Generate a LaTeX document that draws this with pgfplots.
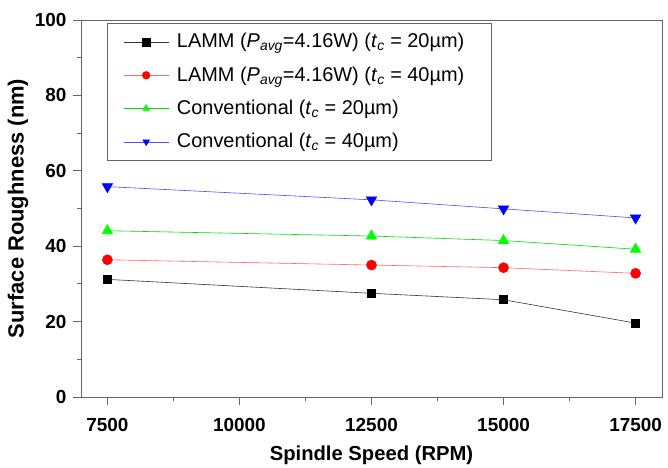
\documentclass[border=0pt]{standalone}
\usepackage{pgfplots}
\pgfplotsset{compat=1.18}
\usepackage{fontspec}
\setmainfont{Liberation Sans}
\begin{document}
\fontsize{19}{22}\selectfont
\begin{tikzpicture}
\path[use as bounding box] (-81bp,-71bp) rectangle (587bp,397bp);
\begin{axis}[
  at={(0,0)}, anchor=south west,
  scale only axis, width=581bp, height=377bp,
  xmin=7000, xmax=18000, ymin=0, ymax=100,
  xtick={7500,10000,12500,15000,17500},
  ytick={0,20,40,60,80,100},
  scaled x ticks=false,
  minor x tick num=1, minor y tick num=1,
  tick align=outside, tick pos=left,
  major tick length=8bp, minor tick length=4bp,
  axis line style={black!60, line width=0.9pt},
  every tick/.style={black!60, line width=0.9pt},
  /pgf/number format/assume math mode=true,
  /pgf/number format/set thousands separator={},
  ticklabel style={font=\fontsize{19}{22}\selectfont\bfseries},
  xticklabel style={yshift=-7bp},
  xlabel={Spindle Speed (RPM)},
  ylabel={Surface Roughness (nm)},
  xlabel style={font=\fontsize{20.3}{24}\selectfont\bfseries, at={(axis description cs:0.5,-58/377)}, anchor=center},
  ylabel style={font=\fontsize{22}{26}\selectfont\bfseries, at={(axis description cs:-63/581,0.5)}, anchor=center},
  legend cell align=left,
  legend style={at={(26/581,1-3/377)}, anchor=north west, draw=black!60, line width=0.8pt,
    font=\fontsize{20}{24}\selectfont, row sep=12bp, inner xsep=6bp, inner ysep=8bp},
  legend image post style={line width=0.6pt},
  legend image code/.code={
    \path (-10bp,0bp) (51bp,0bp);
    \draw[mark repeat=2,mark phase=2,mark size=3.8bp] plot coordinates {(0bp,0bp) (22.5bp,0bp) (45bp,0bp)};
  },
]
\addplot[black!80, line width=0.6pt, mark=square*, mark size=4bp, mark options={fill=black, draw=black}]
  coordinates {(7500,31.2) (12500,27.5) (15000,25.8) (17500,19.6)};
\addlegendentry{LAMM (\textit{P}\textsubscript{\textit{avg}}=4.16W) (\textit{t}\textsubscript{\textit{c}} = 20µm)\rule{19bp}{0pt}}
\addplot[red!60, line width=0.6pt, mark=*, mark size=5bp, mark options={fill=red, draw=red}]
  coordinates {(7500,36.4) (12500,35.0) (15000,34.3) (17500,32.8)};
\addlegendentry{LAMM (\textit{P}\textsubscript{\textit{avg}}=4.16W) (\textit{t}\textsubscript{\textit{c}} = 40µm)}
\addplot[green!80!black!70!green, line width=0.6pt, mark=triangle*, mark size=6bp, mark options={fill=green, draw=green}]
  coordinates {(7500,44.1) (12500,42.7) (15000,41.5) (17500,39.2)};
\addlegendentry{Conventional (\textit{t}\textsubscript{\textit{c}} = 20µm)}
\addplot[blue!70, line width=0.6pt, mark=triangle*, mark size=6bp, mark options={fill=blue, draw=blue, rotate=180}]
  coordinates {(7500,55.8) (12500,52.3) (15000,49.9) (17500,47.5)};
\addlegendentry{Conventional (\textit{t}\textsubscript{\textit{c}} = 40µm)}
\end{axis}
\end{tikzpicture}
\end{document}
